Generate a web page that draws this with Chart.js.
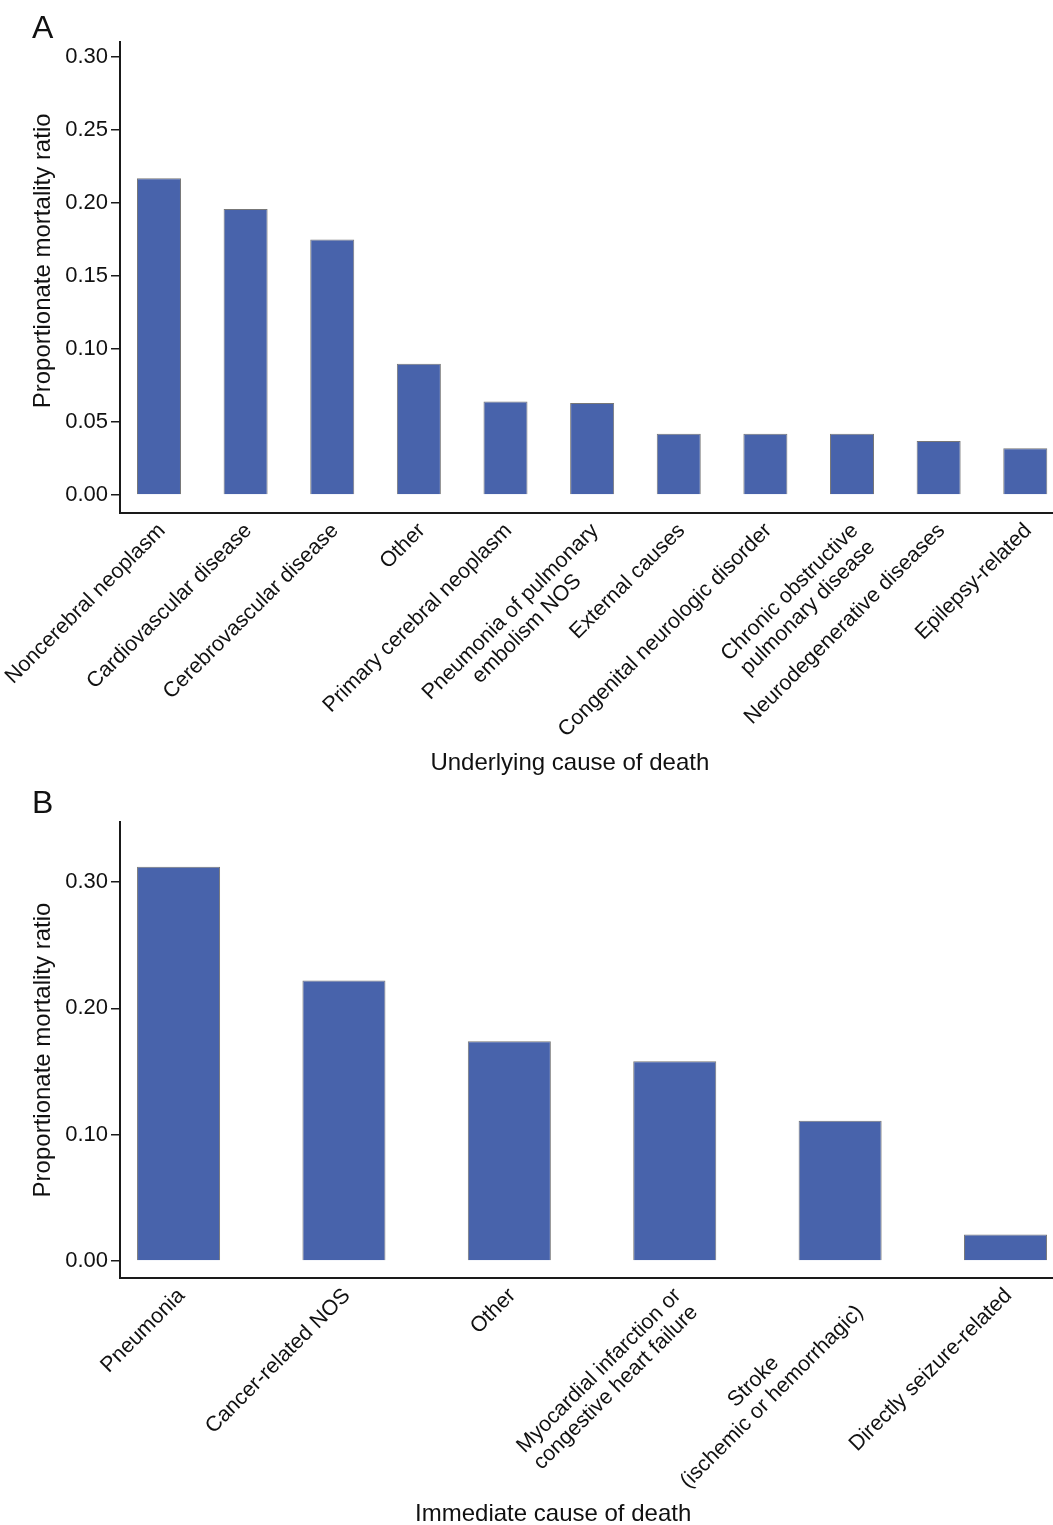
<!DOCTYPE html>
<html>
<head>
<meta charset="utf-8">
<script src="https://cdn.jsdelivr.net/npm/chart.js@4.4.1/dist/chart.umd.min.js"></script>
<style>
  html, body { margin: 0; padding: 0; background: #fff; overflow: hidden; }
  body { width: 1053px; height: 1525px; position: relative; font-family: "Liberation Sans", Arial, sans-serif; }
  .panel { position: absolute; left: 0; width: 1053px; }
  #panelA { top: 0; height: 785px; }
  #panelB { top: 785px; height: 740px; }
  .tag { position: absolute; font-size: 32px; line-height: 32px; color: #111; }
</style>
</head>
<body>
<div class="panel" id="panelA"><canvas id="chartA"></canvas></div>
<div class="panel" id="panelB"><canvas id="chartB"></canvas></div>
<div class="tag" style="left:32px; top:11px">A</div>
<div class="tag" style="left:32px; top:786px">B</div>
<script>
// Panel A: underlying cause of death
const underlyingCauses = [
  'Noncerebral neoplasm',
  'Cardiovascular disease',
  'Cerebrovascular disease',
  'Other',
  'Primary cerebral neoplasm',
  ['Pneumonia of pulmonary', 'embolism NOS'],
  'External causes',
  'Congenital neurologic disorder',
  ['Chronic obstructive', 'pulmonary disease'],
  'Neurodegenerative diseases',
  'Epilepsy-related'
];
const underlyingPMR = [0.217, 0.196, 0.175, 0.090, 0.064, 0.063, 0.042, 0.042, 0.042, 0.037, 0.032];
const underlyingTicks = [0.00, 0.05, 0.10, 0.15, 0.20, 0.25, 0.30];

// Panel B: immediate cause of death
const immediateCauses = [
  'Pneumonia',
  'Cancer-related NOS',
  'Other',
  ['Myocardial infarction or', 'congestive heart failure'],
  ['Stroke', '(ischemic or hemorrhagic)'],
  'Directly seizure-related'
];
const immediatePMR = [0.312, 0.222, 0.174, 0.158, 0.111, 0.021];
const immediateTicks = [0.00, 0.10, 0.20, 0.30];

const FONT = '"Liberation Sans", Arial, sans-serif';
const TEXT = '#111';
const AXIS = '#1a1a1a';
const BAR_FILL = '#4863ab';
const BAR_EDGE = '#777';
const XTICK_SIZE = 21.5;
const YTICK_SIZE = 22;

// pad shorter lines so multi-line rotated labels look centred
const measureCtx = document.createElement('canvas').getContext('2d');
function centerLines(label) {
  if (!Array.isArray(label)) return label;
  measureCtx.font = XTICK_SIZE + 'px ' + FONT;
  const widths = label.map(l => measureCtx.measureText(l).width);
  const maxW = Math.max(...widths);
  const sp = measureCtx.measureText(' ').width;
  return label.map((l, i) => l + ' '.repeat(Math.round((maxW - widths[i]) / 2 / sp)));
}

// nudge a centred title sideways by padding it with spaces
function nudge(text, lead, trail) {
  return ' '.repeat(lead) + text + ' '.repeat(trail);
}

function buildChart(id, labels, values, tickValues, o) {
  const shown = labels.map(centerLines);
  return new Chart(document.getElementById(id), {
    type: 'bar',
    data: {
      datasets: [{
        data: values.map((v, i) => ({ x: i, y: v })),
        backgroundColor: BAR_FILL,
        borderColor: BAR_EDGE,
        borderWidth: 1,
        barPercentage: o.barPct,
        categoryPercentage: 1
      }]
    },
    options: {
      responsive: true,
      maintainAspectRatio: false,
      animation: false,
      layout: { padding: { top: o.padTop, left: 0, right: 0, bottom: 0 } },
      plugins: { legend: { display: false }, tooltip: { enabled: false } },
      scales: {
        x: {
          type: 'linear',
          offset: false,
          min: o.xMin,
          max: o.xMax,
          grid: { display: false, drawTicks: false, offset: false },
          border: { display: true, color: AXIS, width: 2 },
          afterBuildTicks: s => { s.ticks = labels.map((_, i) => ({ value: i })); },
          afterFit: s => { s.height = o.xHeight; s.paddingLeft = 0; s.paddingRight = 0; },
          ticks: {
            autoSkip: false,
            minRotation: 45,
            maxRotation: 45,
            padding: 6,
            labelOffset: 3,
            color: TEXT,
            font: { size: XTICK_SIZE, family: FONT, lineHeight: 1.1 },
            callback: v => shown[v]
          },
          title: {
            display: true,
            text: nudge(o.xTitle, 0, o.xTitleShift),
            color: TEXT,
            font: { size: 24, family: FONT, lineHeight: 1 },
            padding: { top: 0, bottom: o.titlePadB }
          }
        },
        y: {
          min: o.yMin,
          max: o.yMax,
          afterFit: s => { s.width = 120; },
          afterBuildTicks: s => { s.ticks = tickValues.map(v => ({ value: v })); },
          grid: { drawOnChartArea: false, drawTicks: true, tickLength: 9, color: AXIS, lineWidth: 1.5 },
          border: { display: true, color: AXIS, width: 2 },
          ticks: {
            padding: 3,
            color: TEXT,
            font: { size: YTICK_SIZE, family: FONT },
            callback: v => Number(v).toFixed(2)
          },
          title: {
            display: true,
            text: nudge('Proportionate mortality ratio', o.yTitleShift, 0),
            color: TEXT,
            font: { size: 24, family: FONT, lineHeight: 1 },
            padding: { top: 31, bottom: 0 }
          }
        }
      }
    }
  });
}

buildChart('chartA', underlyingCauses, underlyingPMR, underlyingTicks, {
  barPct: 0.508, padTop: 42, xMin: -0.45, xMax: 10.32, xHeight: 272,
  yMin: -0.0123, yMax: 0.3103, titlePadB: 10, xTitle: 'Underlying cause of death',
  xTitleShift: 5, yTitleShift: 5
});

buildChart('chartB', immediateCauses, immediatePMR, immediateTicks, {
  barPct: 0.502, padTop: 37, xMin: -0.354, xMax: 5.287, xHeight: 247,
  yMin: -0.0135, yMax: 0.3475, titlePadB: -1, xTitle: 'Immediate cause of death',
  xTitleShift: 10, yTitleShift: 0
});
</script>
</body>
</html>
